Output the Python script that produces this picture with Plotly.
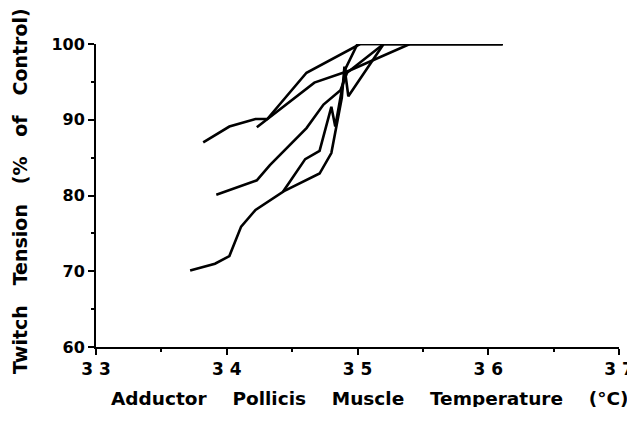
import plotly.graph_objects as go

# Temperature (°C) and twitch tension (% of control) per subject
t1 = [33.82, 34.02, 34.22, 34.31, 34.61, 35.02, 36.11]
y1 = [87.0, 89.1, 90.1, 90.1, 96.2, 100, 100]

t2 = [34.23, 34.67, 34.94, 35.40, 36.11]
y2 = [89.0, 94.9, 96.5, 100, 100]

t3 = [33.92, 34.23, 34.33, 34.61, 34.74, 34.87, 34.92, 35.20, 36.11]
y3 = [80.1, 82.0, 84.0, 88.9, 92.0, 93.9, 96.2, 100, 100]

t4 = [33.72, 33.91, 34.02, 34.11, 34.22, 34.33, 34.43, 34.60, 34.71, 34.80, 34.83, 34.91, 35.00, 36.11]
y4 = [70.1, 71.0, 72.0, 75.9, 78.1, 79.4, 80.5, 84.8, 85.9, 91.7, 89.1, 96.8, 100, 100]

t5 = [34.43, 34.71, 34.80, 34.88, 34.90, 34.93, 35.20, 36.11]
y5 = [80.5, 82.9, 85.6, 92.9, 97.0, 93.1, 100, 100]

series = [(t1, y1), (t2, y2), (t3, y3), (t4, y4), (t5, y5)]

x_ticks = [33, 34, 35, 36, 37]
x_ticktext = ["3 3", "3 4", "3 5", "3 6", "3 7"]
y_ticks = [60, 70, 80, 90, 100]

x_title = "Adductor Pollicis Muscle Temperature (°C)"
y_title = "Twitch Tension (% of Control)"

FAM = "DejaVu Sans, Liberation Sans, Arial, sans-serif"
SPX = "\u00a0\u00a0\u00a0\u00a0"
SPY = "\u00a0\u00a0\u00a0"

fig = go.Figure()
for tx, ty in series:
    fig.add_trace(go.Scatter(x=tx, y=ty, mode="lines",
                             line=dict(color="black", width=2.6),
                             showlegend=False, hoverinfo="skip"))

W, H = 627, 399
L, R, T, B = 88, 16, 36, 60
PW, PH = W - L - R, H - T - B

fig.update_layout(
    width=W, height=H,
    margin=dict(l=L, r=R, t=T, b=B),
    paper_bgcolor="white", plot_bgcolor="white",
    font=dict(family=FAM, size=17, color="black", weight=700),
)
fig.update_xaxes(
    range=[33, 37], tickvals=x_ticks, ticktext=x_ticktext,
    automargin=False, ticklabeloverflow="allow",
    showgrid=False, zeroline=False,
    showline=True, linecolor="black", linewidth=2,
    ticks="outside", ticklen=6, tickwidth=2, tickcolor="black",
    minor=dict(dtick=0.5, ticks="outside", ticklen=3, tickwidth=1.5, tickcolor="black"),
    tickfont=dict(family=FAM, size=17, color="black", weight=700),
)
fig.update_yaxes(
    range=[60, 100], tickvals=y_ticks,
    automargin=False,
    showgrid=False, zeroline=False,
    showline=True, linecolor="black", linewidth=2,
    ticks="outside", ticklen=6, tickwidth=2, tickcolor="black",
    minor=dict(dtick=5, ticks="outside", ticklen=3, tickwidth=1.5, tickcolor="black"),
    tickfont=dict(family=FAM, size=16, color="black", weight=700),
)

fig.add_annotation(
    text=x_title.replace(" ", SPX), xref="paper", yref="paper",
    x=(362 - L) / PW, y=-51 / PH, xanchor="center", yanchor="middle",
    showarrow=False, font=dict(family=FAM, size=18.5, color="black", weight=700),
)
fig.add_annotation(
    text=y_title.replace(" ", SPY), xref="paper", yref="paper",
    x=(12 - L) / PW, y=(PH - (183 - T)) / PH,
    xanchor="center", yanchor="middle", textangle=-90,
    showarrow=False, font=dict(family=FAM, size=19, color="black", weight=700),
)

fig.write_html("out.html")
